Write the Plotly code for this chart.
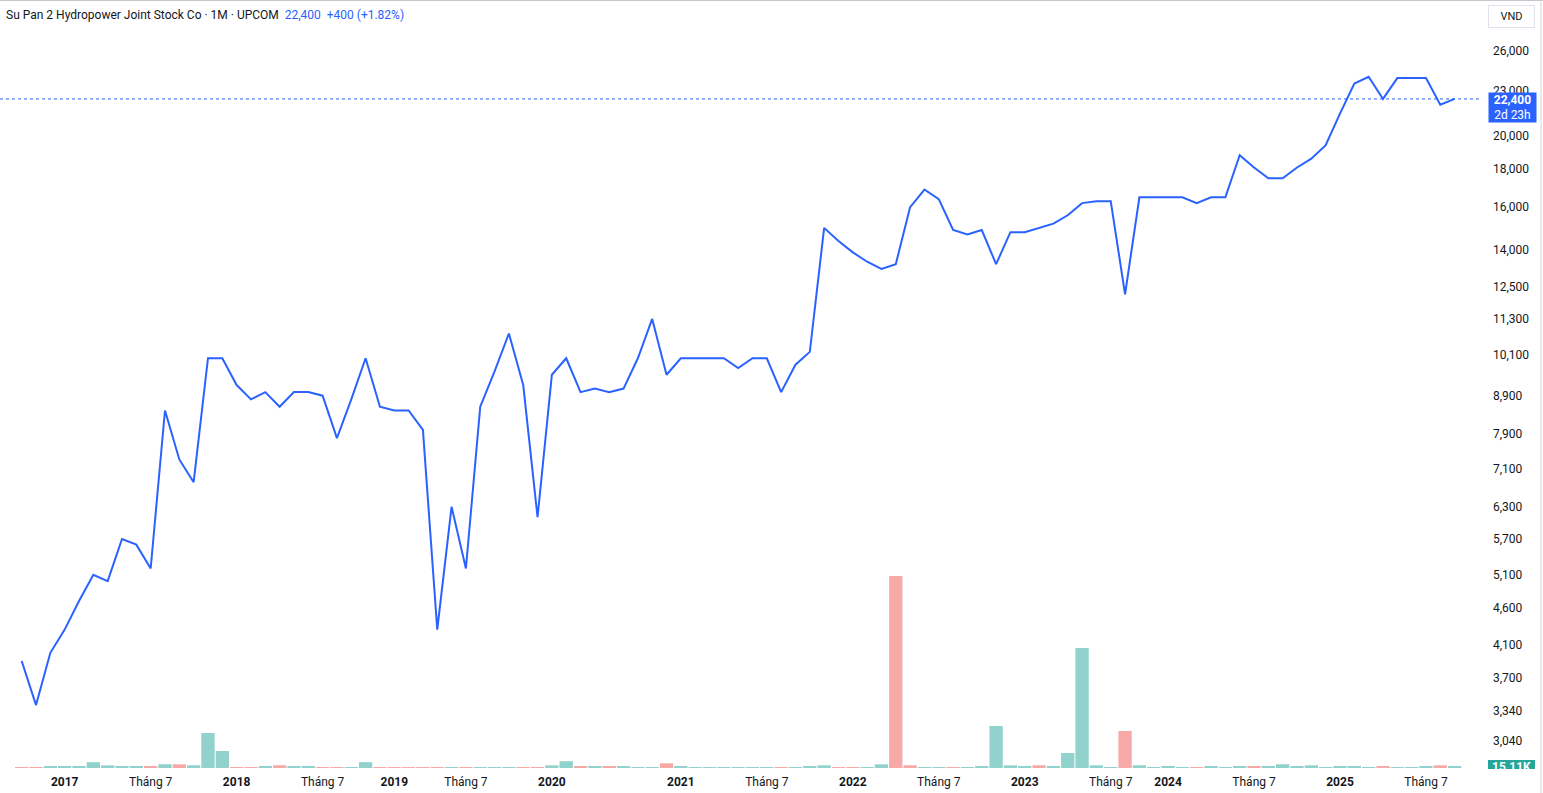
import math
import plotly.graph_objects as go

# Tháng có giao dịch (một số tháng không có nến)
months = [
    "2016-10", "2016-11", "2016-12",
    "2017-01", "2017-02", "2017-03", "2017-04", "2017-05", "2017-06",
    "2017-07", "2017-08", "2017-09", "2017-10", "2017-11", "2017-12",
    "2018-01", "2018-02", "2018-03", "2018-04", "2018-05", "2018-06",
    "2018-07", "2018-08", "2018-09", "2018-11", "2018-12",
    "2019-01", "2019-02", "2019-03", "2019-05", "2019-06",
    "2019-07", "2019-08", "2019-09", "2019-10", "2019-11", "2019-12",
    "2020-01", "2020-02", "2020-03", "2020-04", "2020-05", "2020-06",
    "2020-10", "2020-11", "2020-12",
    "2021-01", "2021-02", "2021-03", "2021-04", "2021-05", "2021-06",
    "2021-07", "2021-08", "2021-09", "2021-10", "2021-11", "2021-12",
    "2022-01", "2022-02", "2022-03", "2022-04", "2022-05", "2022-06",
    "2022-07", "2022-08", "2022-09", "2022-10", "2022-11", "2022-12",
    "2023-01", "2023-02", "2023-03", "2023-04", "2023-05", "2023-06",
    "2023-07", "2023-08", "2023-09", "2023-12",
    "2024-01", "2024-02", "2024-03", "2024-04", "2024-05", "2024-06",
    "2024-07", "2024-08", "2024-09", "2024-10", "2024-11", "2024-12",
    "2025-01", "2025-02", "2025-03", "2025-04", "2025-05", "2025-06",
    "2025-07", "2025-08", "2025-09",
]

# Giá đóng cửa (VND)
close = [
    3900, 3400, 4000, 4300, 4700, 5100, 5000, 5700, 5600, 5200,
    8500, 7300, 6800, 10000, 10000, 9200, 8800, 9000, 8600, 9000,
    9000, 8900, 7800, 8800, 10000, 8600, 8500, 8500, 8000, 4300,
    6300, 5200, 8600, 9600, 10800, 9200, 6100, 9500, 10000, 9000,
    9100, 9000, 9100, 10000, 11300, 9500, 10000, 10000, 10000, 10000,
    9700, 10000, 10000, 9000, 9800, 10200, 15000, 14400, 13900, 13500,
    13200, 13400, 16000, 16900, 16400, 14900, 14700, 14900, 13400, 14800,
    14800, 15000, 15200, 15600, 16200, 16300, 16300, 12200, 16500, 16500,
    16500, 16500, 16200, 16500, 16500, 18800, 18100, 17500, 17500, 18100,
    18600, 19400, 21400, 23500, 24000, 22400, 23900, 23900, 23900, 22000,
    22400,
]

# Khối lượng
volume = [
    10500, 9800, 26000, 24000, 25500, 87000, 40000, 25000, 26000, 24500,
    56000, 55000, 41000, 525000, 255000, 9000, 10000, 25000, 41000, 26000,
    25000, 10000, 9500, 11000, 88000, 9000, 10500, 9800, 10000, 11500,
    10200, 9600, 10800, 10100, 9900, 10400, 11000, 40000, 102000, 25000,
    26500, 24500, 25000, 10500, 11000, 70000, 25500, 10000, 9500, 10200,
    9800, 10000, 10600, 9700, 10300, 25000, 40500, 10000, 9800, 10500,
    55000, 2880000, 41000, 10200, 9900, 10400, 10000, 26000, 630000, 40000,
    25000, 41000, 26000, 225000, 1800000, 40500, 10000, 555000, 41000, 10500,
    25500, 10000, 9800, 26000, 10200, 25000, 25500, 26000, 56000, 25000,
    40000, 10500, 25000, 26000, 10000, 25500, 10200, 9800, 25000, 40000,
    15110,
]

# u = nến tăng, d = nến giảm
direction = list(
    "ddUUUUUUUd"
    "UdUUUddUdU"
    "UddUUddddd"
    "UdUUUddUUd"
    "UdUUUdUUUU"
    "UUUdUUUddU"
    "UddUUdUUUU"
    "UdUUUUUdUU"
    "UUdUUUdUUU"
    "UUUUUdUUUd"
    "U".lower()
)

tick_vals = ["2017-01", "2017-07", "2018-01", "2018-07", "2019-01", "2019-07",
             "2020-01", "2021-01", "2021-07", "2022-01", "2022-07", "2023-01",
             "2023-07", "2024-01", "2024-07", "2025-01", "2025-07"]
tick_text = ["<b>2017</b>", "Tháng 7", "<b>2018</b>", "Tháng 7", "<b>2019</b>", "Tháng 7",
             "<b>2020</b>", "<b>2021</b>", "Tháng 7", "<b>2022</b>", "Tháng 7", "<b>2023</b>",
             "Tháng 7", "<b>2024</b>", "Tháng 7", "<b>2025</b>", "Tháng 7"]

price_ticks = [3040, 3340, 3700, 4100, 4600, 5100, 5700, 6300, 7100, 7900,
               8900, 10100, 11300, 12500, 14000, 16000, 18000, 20000, 23000, 26000]

title_text = "Su Pan 2 Hydropower Joint Stock Co · 1M · UPCOM"
quote_text = "22,400\u00a0\u00a0+400 (+1.82%)"
last_label = "15.11K"
countdown = "2d 23h"

BLUE = "#2962ff"
UP_VOL = "#92d2cc"
DOWN_VOL = "#f7a9a7"

vol_colors = [UP_VOL if d == "u" else DOWN_VOL for d in direction]

fig = go.Figure()

fig.add_trace(go.Bar(
    x=months,
    y=volume,
    yaxis="y2",
    marker=dict(color=vol_colors, line=dict(width=0)),
    hoverinfo="skip",
))

fig.add_trace(go.Scatter(
    x=months,
    y=close,
    mode="lines",
    line=dict(color=BLUE, width=2),
))

last_price = close[-1]

fig.update_layout(
    width=1543,
    height=793,
    margin=dict(l=0, r=63, t=0, b=25),
    paper_bgcolor="white",
    plot_bgcolor="white",
    showlegend=False,
    bargap=0.07,
    font=dict(family="Roboto", size=12, color="#131722"),
    xaxis=dict(
        type="category",
        range=[-1.514, 101.77],
        tickvals=tick_vals,
        ticktext=tick_text,
        showgrid=False,
        zeroline=False,
        showline=False,
        ticks="",
        ticklabelstandoff=5,
        tickfont=dict(size=12, color="#131722"),
    ),
    yaxis=dict(
        type="log",
        side="right",
        range=[3.4465, 4.4839],
        tickvals=price_ticks,
        ticktext=[f"{v:,}" for v in price_ticks],
        showgrid=False,
        zeroline=False,
        showline=False,
        ticks="",
        ticklabelstandoff=12,
        tickfont=dict(size=12, color="#131722"),
    ),
    yaxis2=dict(
        overlaying="y",
        range=[0, 11520000],
        visible=False,
    ),
)

# đường giá hiện tại
fig.add_shape(type="line", xref="paper", x0=0, x1=1, yref="y",
              y0=last_price, y1=last_price,
              line=dict(color=BLUE, width=1, dash="dot"))

# khung viền
fig.add_shape(type="line", xref="paper", x0=0, x1=1 + 63 / 1480, yref="paper",
              y0=1, y1=1, line=dict(color="#b2b5be", width=1.5), layer="above")
fig.add_shape(type="line", xref="paper", x0=1 + 61 / 1480, x1=1 + 61 / 1480,
              yref="paper", y0=1, y1=-25 / 768,
              line=dict(color="#d1d4dc", width=1), layer="above")

# nhãn khối lượng (bị cắt bởi trục thời gian)
fig.add_shape(type="rect", xref="paper", x0=1 + 8 / 1480, x1=1 + 55 / 1480,
              yref="paper", y0=-1 / 768, y1=8 / 768,
              fillcolor="#26a69a", line=dict(width=0), layer="above")

fig.add_annotation(
    xref="paper", x=0, xanchor="left", xshift=4,
    yref="paper", y=1, yanchor="top", yshift=-6,
    text=f"{title_text}\u00a0\u00a0<span style='color:{BLUE}'>{quote_text}</span>",
    showarrow=False,
    font=dict(size=12, color="#131722"),
)

fig.add_annotation(
    xref="paper", x=1, xanchor="left", xshift=8,
    yref="paper", y=1, yanchor="top", yshift=-5,
    text="VND", showarrow=False,
    width=37, borderpad=4, bordercolor="#e0e3eb", borderwidth=1,
    bgcolor="white", font=dict(size=11, color="#131722"),
)

fig.add_annotation(
    xref="paper", x=1, xanchor="left", xshift=8,
    yref="y", y=math.log10(last_price), yanchor="top", yshift=7,
    text=f"<b>{last_price:,}</b><br>{countdown}", showarrow=False,
    width=45, height=27, borderpad=1, bgcolor=BLUE,
    font=dict(size=12, color="white"),
)

fig.add_annotation(
    xref="paper", x=1, xanchor="center", xshift=31.5,
    yref="paper", y=0, yanchor="middle", yshift=1,
    text=f"<b>{last_label}</b>", showarrow=False,
    font=dict(size=12, color="white"),
)

# bỏ lề mặc định của trang để biểu đồ nằm sát mép
fig.write_html(
    "out.html",
    config={"displayModeBar": False},
    post_script="document.body.style.margin='0';",
)
